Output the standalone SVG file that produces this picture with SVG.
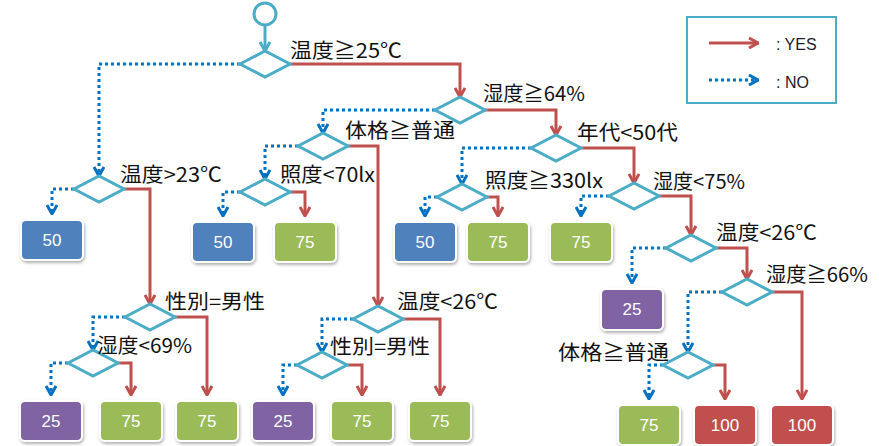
<svg xmlns="http://www.w3.org/2000/svg" xmlns:xlink="http://www.w3.org/1999/xlink" width="879" height="446" viewBox="0 0 879 446">
<style>
.dia{fill:#fff;stroke:#4BACC6;stroke-width:3;stroke-linejoin:miter}
.lbl{font-family:"Noto Sans CJK JP","Noto Sans",sans-serif;font-size:20px;fill:#111}
.y{fill:none;stroke:#C0504D;stroke-width:3;marker-end:url(#ay)}
.n{fill:none;stroke:#0070C0;stroke-width:3;stroke-dasharray:3 3;marker-end:url(#an)}
.box{stroke:#fff;stroke-width:2;filter:url(#sh)}
.bt{font-family:"Liberation Sans",Arial,sans-serif;font-size:17px;fill:#fff;text-anchor:middle}
.blue{fill:#4F81BD}.green{fill:#9BBB59}.purple{fill:#8064A2}.red{fill:#C0504D}
.leg{font-family:"Liberation Sans",Arial,sans-serif;font-size:16px;fill:#1c1c2c}
</style>
<defs>
<marker id="ay" viewBox="0 0 12 12" refX="11" refY="6" markerWidth="12" markerHeight="12" orient="auto" markerUnits="userSpaceOnUse"><polyline points="2,1 11,6 2,11" fill="none" stroke="#C0504D" stroke-width="3"/></marker>
<marker id="an" viewBox="0 0 12 12" refX="11" refY="6" markerWidth="12" markerHeight="12" orient="auto" markerUnits="userSpaceOnUse"><polyline points="2,1 11,6 2,11" fill="none" stroke="#0070C0" stroke-width="3" stroke-dasharray="none"/></marker>
<marker id="at" viewBox="0 0 12 12" refX="11" refY="6" markerWidth="12" markerHeight="12" orient="auto" markerUnits="userSpaceOnUse"><polyline points="2,1 11,6 2,11" fill="none" stroke="#4BACC6" stroke-width="3"/></marker>
<polygon id="d" points="-25,0 0,-13 25,0 0,13"/>
<filter id="sh" x="-20%" y="-20%" width="140%" height="150%"><feDropShadow dx="1" dy="2" stdDeviation="1.5" flood-color="#000" flood-opacity="0.3"/></filter>
</defs>
<rect width="879" height="446" fill="#fff"/>

<g id="connectors">
<path d="M265,26 V51" fill="none" stroke="#4BACC6" stroke-width="3" marker-end="url(#at)"/>
<path class="y" d="M290,64 H460 V97"/>
<path class="y" d="M124,189 H150 V304"/>
<path class="y" d="M485,110 H556 V135"/>
<path class="y" d="M348,146 H378 V306"/>
<path class="y" d="M581,148 H634 V183"/>
<path class="y" d="M290,192 H305 V216"/>
<path class="y" d="M487,197 H498 V216"/>
<path class="y" d="M659,196 H691 V235"/>
<path class="y" d="M716,248 H747 V279"/>
<path class="y" d="M772,292 H802 V399"/>
<path class="y" d="M175,317 H207 V395"/>
<path class="y" d="M118,363 H131 V395"/>
<path class="y" d="M403,319 H440 V395"/>
<path class="y" d="M347,365 H362 V395"/>
<path class="y" d="M713,365 H725 V399"/>
<path class="n" d="M240,64 H99 V176"/>
<path class="n" d="M74,189 H52 V214"/>
<path class="n" d="M435,110 H323 V133"/>
<path class="n" d="M298,146 H265 V179"/>
<path class="n" d="M531,148 H462 V184"/>
<path class="n" d="M240,192 H223 V216"/>
<path class="n" d="M437,197 H425 V216"/>
<path class="n" d="M609,196 H581 V216"/>
<path class="n" d="M666,248 H632 V283"/>
<path class="n" d="M722,292 H688 V352"/>
<path class="n" d="M125,317 H93 V350"/>
<path class="n" d="M68,363 H51 V395"/>
<path class="n" d="M353,319 H322 V352"/>
<path class="n" d="M297,365 H283 V395"/>
<path class="n" d="M663,365 H649 V399"/>
</g>

<g id="start"><circle cx="265" cy="14" r="11" fill="#fff" stroke="#4BACC6" stroke-width="3"/></g>

<g id="d1"><use href="#d" class="dia" x="265" y="64"/><text class="lbl" x="290" y="58" textLength="112" lengthAdjust="spacingAndGlyphs">温度≧25℃</text></g>
<g id="d2"><use href="#d" class="dia" x="99" y="189"/><text class="lbl" x="120" y="182" textLength="102" lengthAdjust="spacingAndGlyphs">温度&gt;23℃</text></g>
<g id="d3"><use href="#d" class="dia" x="460" y="110"/><text class="lbl" x="483" y="101" textLength="102" lengthAdjust="spacingAndGlyphs">湿度≧64%</text></g>
<g id="d4"><use href="#d" class="dia" x="323" y="146"/><text class="lbl" x="345" y="138" textLength="110" lengthAdjust="spacingAndGlyphs">体格≧普通</text></g>
<g id="d5"><use href="#d" class="dia" x="556" y="148"/><text class="lbl" x="577" y="140" textLength="101" lengthAdjust="spacingAndGlyphs">年代&lt;50代</text></g>
<g id="d6"><use href="#d" class="dia" x="265" y="192"/><text class="lbl" x="280" y="182" textLength="95" lengthAdjust="spacingAndGlyphs">照度&lt;70lx</text></g>
<g id="d7"><use href="#d" class="dia" x="462" y="197"/><text class="lbl" x="485" y="188" textLength="118" lengthAdjust="spacingAndGlyphs">照度≧330lx</text></g>
<g id="d8"><use href="#d" class="dia" x="634" y="196"/><text class="lbl" x="653" y="189" textLength="92" lengthAdjust="spacingAndGlyphs">湿度&lt;75%</text></g>
<g id="d9"><use href="#d" class="dia" x="691" y="248"/><text class="lbl" x="716" y="240" textLength="101" lengthAdjust="spacingAndGlyphs">温度&lt;26℃</text></g>
<g id="d10"><use href="#d" class="dia" x="747" y="292"/><text class="lbl" x="766" y="282" textLength="102" lengthAdjust="spacingAndGlyphs">湿度≧66%</text></g>
<g id="d11"><use href="#d" class="dia" x="150" y="317"/><text class="lbl" x="165" y="309" textLength="100" lengthAdjust="spacingAndGlyphs">性別=男性</text></g>
<g id="d12"><use href="#d" class="dia" x="93" y="363"/><text class="lbl" x="97" y="353" textLength="95" lengthAdjust="spacingAndGlyphs">湿度&lt;69%</text></g>
<g id="d13"><use href="#d" class="dia" x="378" y="319"/><text class="lbl" x="397" y="309" textLength="101" lengthAdjust="spacingAndGlyphs">温度&lt;26℃</text></g>
<g id="d14"><use href="#d" class="dia" x="322" y="365"/><text class="lbl" x="330" y="354" textLength="100" lengthAdjust="spacingAndGlyphs">性別=男性</text></g>
<g id="d15"><use href="#d" class="dia" x="688" y="365"/><text class="lbl" x="558" y="360" textLength="111" lengthAdjust="spacingAndGlyphs">体格≧普通</text></g>

<g id="b1"><rect class="box blue" x="21" y="220" width="62" height="40" rx="5"/><text class="bt" x="52" y="246">50</text></g>
<g id="b2"><rect class="box blue" x="192" y="222" width="62" height="40" rx="5"/><text class="bt" x="223" y="248">50</text></g>
<g id="b3"><rect class="box green" x="274" y="222" width="62" height="40" rx="5"/><text class="bt" x="305" y="248">75</text></g>
<g id="b4"><rect class="box blue" x="394" y="222" width="62" height="40" rx="5"/><text class="bt" x="425" y="248">50</text></g>
<g id="b5"><rect class="box green" x="467" y="222" width="62" height="40" rx="5"/><text class="bt" x="498" y="248">75</text></g>
<g id="b6"><rect class="box green" x="550" y="222" width="62" height="40" rx="5"/><text class="bt" x="581" y="248">75</text></g>
<g id="b7"><rect class="box purple" x="601" y="289" width="62" height="41" rx="5"/><text class="bt" x="632" y="315">25</text></g>
<g id="b8"><rect class="box purple" x="20" y="401" width="62" height="40" rx="5"/><text class="bt" x="51" y="427">25</text></g>
<g id="b9"><rect class="box green" x="100" y="401" width="62" height="40" rx="5"/><text class="bt" x="131" y="427">75</text></g>
<g id="b10"><rect class="box green" x="176" y="401" width="62" height="40" rx="5"/><text class="bt" x="207" y="427">75</text></g>
<g id="b11"><rect class="box purple" x="252" y="401" width="62" height="40" rx="5"/><text class="bt" x="283" y="427">25</text></g>
<g id="b12"><rect class="box green" x="331" y="401" width="62" height="40" rx="5"/><text class="bt" x="362" y="427">75</text></g>
<g id="b13"><rect class="box green" x="409" y="401" width="62" height="40" rx="5"/><text class="bt" x="440" y="427">75</text></g>
<g id="b14"><rect class="box green" x="618" y="405" width="62" height="40" rx="5"/><text class="bt" x="649" y="431">75</text></g>
<g id="b15"><rect class="box red" x="694" y="405" width="62" height="40" rx="5"/><text class="bt" x="725" y="431">100</text></g>
<g id="b16"><rect class="box red" x="771" y="405" width="62" height="40" rx="5"/><text class="bt" x="802" y="431">100</text></g>

<g id="legend">
<rect x="687" y="17" width="149" height="86" fill="#fff" stroke="#4BACC6" stroke-width="2"/>
<path d="M709,43 H758" fill="none" stroke="#C0504D" stroke-width="3" marker-end="url(#ay)"/>
<path d="M709,80 H758" fill="none" stroke="#0070C0" stroke-width="3" stroke-dasharray="3 3" marker-end="url(#an)"/>
<text class="leg" x="776" y="50">: YES</text>
<text class="leg" x="776" y="88">: NO</text>
</g>
</svg>
